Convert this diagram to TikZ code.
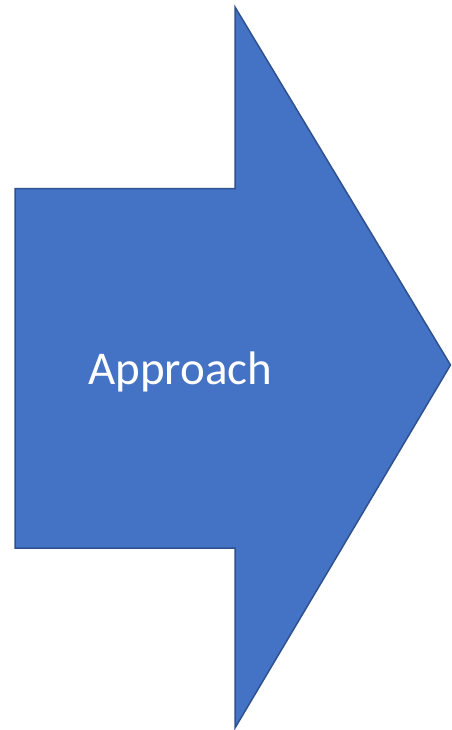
\documentclass[tikz,border=0pt]{standalone}
\usepackage{fontspec}
\setmainfont{Carlito}

\definecolor{arrowfill}{HTML}{4472C4}
\definecolor{arrowline}{HTML}{2F528F}

\begin{document}
\begin{tikzpicture}
        [
            x = 1pt, y = -1pt,
            bigarrow/.style = {fill=arrowfill, draw=arrowline, line width=1.5pt, line join=miter},
            label/.style    = {text=white, font=\fontsize{47}{56}\selectfont, inner sep=0pt},
        ]
        \useasboundingbox (0,0) rectangle (451,730);
        \draw [bigarrow] (15,188.5) -- (235,188.5) -- (235,7) -- (450.5,365)
            -- (235,728) -- (235,548) -- (15,548) -- cycle;
        \node [label, anchor=base west] (approach) at (88,384) {Approach};
    \end{tikzpicture}
\end{document}
